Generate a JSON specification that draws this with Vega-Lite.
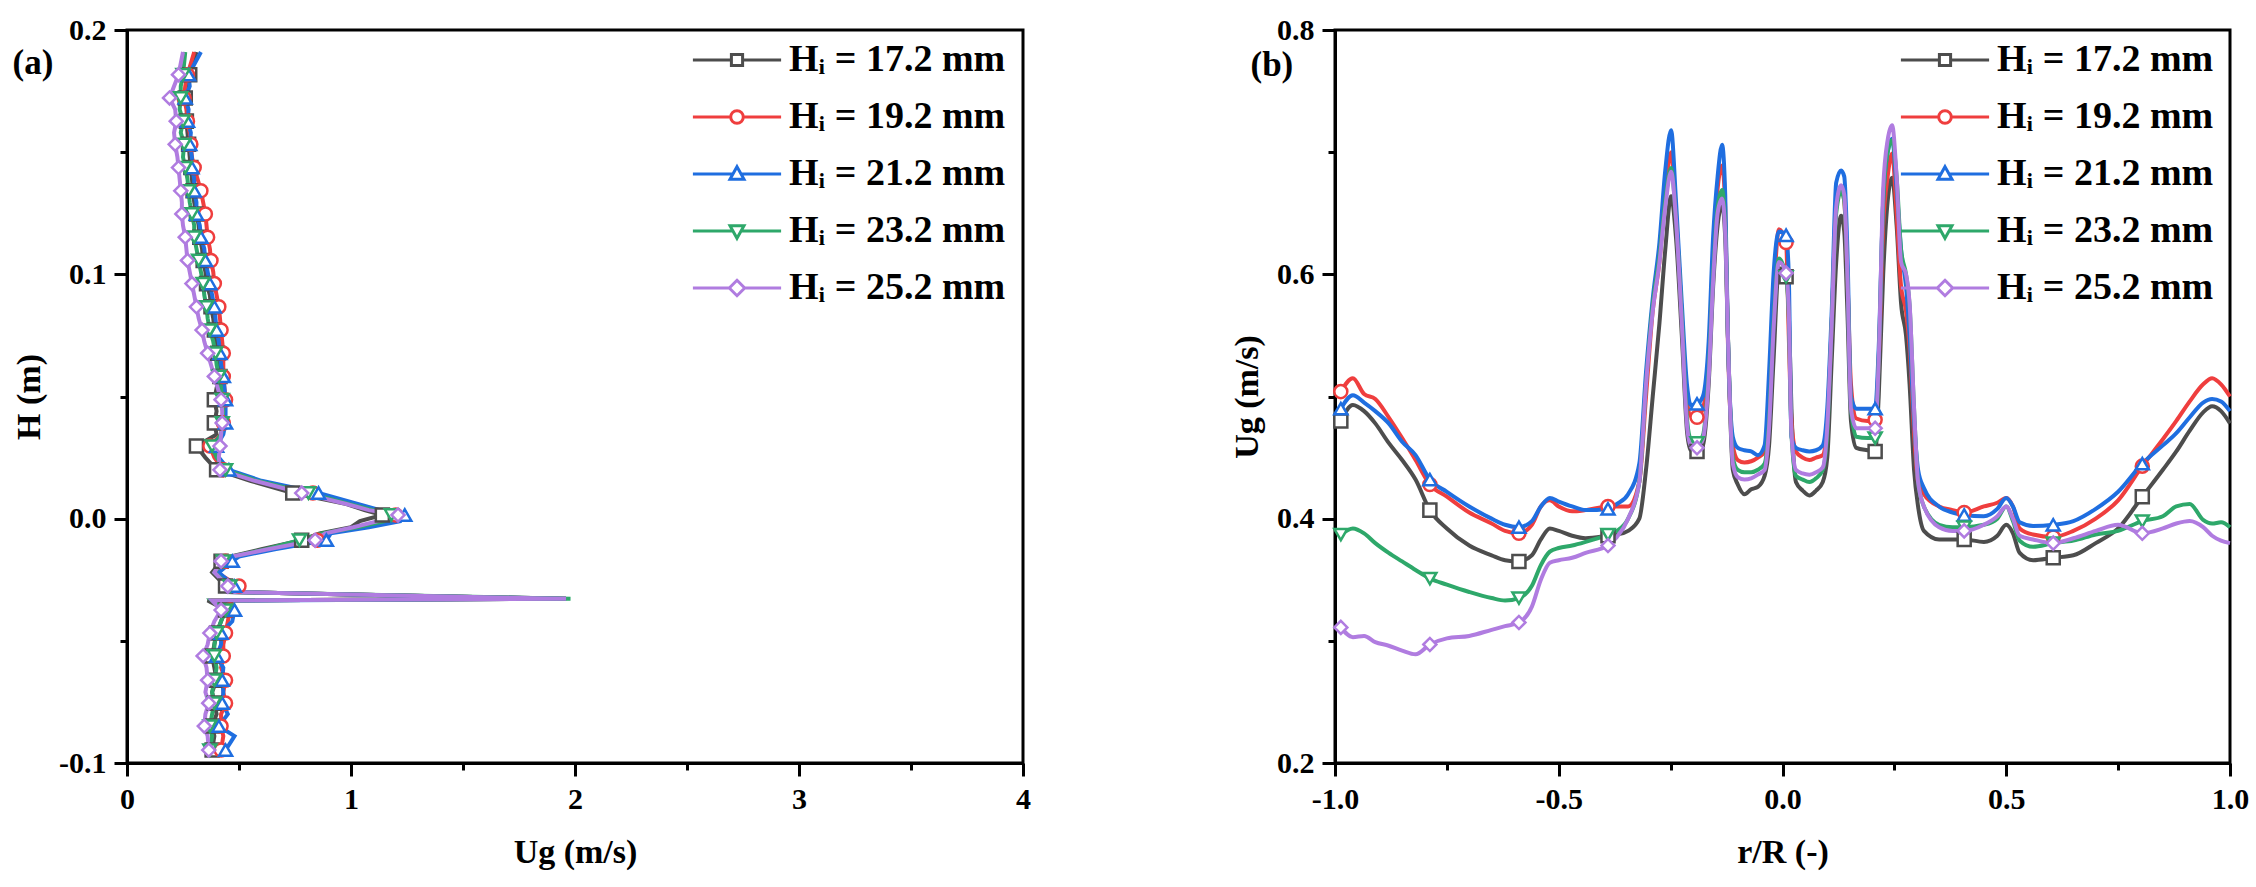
{
  "$schema": "https://vega.github.io/schema/vega-lite/v6.json",
  "background": "white",
  "padding": {"left": 11, "top": 13, "right": 0, "bottom": 0},
  "spacing": 197,
  "config": {
    "font": "Liberation Serif",
    "view": {"stroke": "black", "strokeWidth": 3},
    "axis": {
      "grid": false,
      "domainColor": "black",
      "domainWidth": 3,
      "tickColor": "black",
      "tickWidth": 3,
      "labelFont": "Liberation Serif",
      "labelFontWeight": "bold",
      "labelFontSize": 30,
      "labelColor": "black",
      "labelPadding": 8,
      "labelFlush": false,
      "labelOverlap": false,
      "titleFont": "Liberation Serif",
      "titleFontWeight": "bold",
      "titleFontSize": 34,
      "titleColor": "black",
      "titlePadding": 12
    },
    "axisX": {"titlePadding": 21},
    "legend": {
      "orient": "none",
      "legendX": 591,
      "legendY": 11,
      "padding": 0,
      "labelFont": "Liberation Serif",
      "labelFontWeight": "bold",
      "labelFontSize": 38,
      "labelColor": "black",
      "labelLimit": 400,
      "labelOffset": 33,
      "rowPadding": 19,
      "symbolSize": 196,
      "symbolStrokeWidth": 3
    }
  },
  "datasets": {
    "profile": [
      {"H": 0.191, "k17": 0.31, "k19": 0.30, "k21": 0.33, "k23": 0.26, "k25": 0.25},
      {"H": 0.1817, "k17": 0.28, "k19": 0.27, "k21": 0.275, "k23": 0.25, "k25": 0.23},
      {"H": 0.177, "k17": 0.27, "k19": 0.26, "k21": 0.28, "k23": 0.24, "k25": 0.21},
      {"H": 0.1722, "k17": 0.26, "k19": 0.255, "k21": 0.26, "k23": 0.24, "k25": 0.19},
      {"H": 0.1675, "k17": 0.27, "k19": 0.265, "k21": 0.275, "k23": 0.235, "k25": 0.215},
      {"H": 0.1627, "k17": 0.265, "k19": 0.27, "k21": 0.27, "k23": 0.25, "k25": 0.22},
      {"H": 0.158, "k17": 0.27, "k19": 0.28, "k21": 0.285, "k23": 0.24, "k25": 0.21},
      {"H": 0.1532, "k17": 0.275, "k19": 0.285, "k21": 0.28, "k23": 0.255, "k25": 0.215},
      {"H": 0.148, "k17": 0.28, "k19": 0.29, "k21": 0.29, "k23": 0.25, "k25": 0.225},
      {"H": 0.1437, "k17": 0.285, "k19": 0.30, "k21": 0.29, "k23": 0.26, "k25": 0.23},
      {"H": 0.139, "k17": 0.29, "k19": 0.315, "k21": 0.30, "k23": 0.27, "k25": 0.235},
      {"H": 0.1342, "k17": 0.295, "k19": 0.33, "k21": 0.30, "k23": 0.275, "k25": 0.24},
      {"H": 0.1295, "k17": 0.30, "k19": 0.34, "k21": 0.31, "k23": 0.28, "k25": 0.245},
      {"H": 0.1247, "k17": 0.31, "k19": 0.35, "k21": 0.31, "k23": 0.29, "k25": 0.245},
      {"H": 0.12, "k17": 0.32, "k19": 0.355, "k21": 0.325, "k23": 0.30, "k25": 0.25},
      {"H": 0.1152, "k17": 0.325, "k19": 0.36, "k21": 0.33, "k23": 0.30, "k25": 0.26},
      {"H": 0.1105, "k17": 0.335, "k19": 0.37, "k21": 0.345, "k23": 0.31, "k25": 0.265},
      {"H": 0.1057, "k17": 0.34, "k19": 0.375, "k21": 0.35, "k23": 0.32, "k25": 0.27},
      {"H": 0.101, "k17": 0.35, "k19": 0.385, "k21": 0.36, "k23": 0.33, "k25": 0.28},
      {"H": 0.0962, "k17": 0.355, "k19": 0.39, "k21": 0.37, "k23": 0.34, "k25": 0.29},
      {"H": 0.0915, "k17": 0.37, "k19": 0.40, "k21": 0.38, "k23": 0.345, "k25": 0.30},
      {"H": 0.0867, "k17": 0.375, "k19": 0.41, "k21": 0.39, "k23": 0.355, "k25": 0.31},
      {"H": 0.082, "k17": 0.385, "k19": 0.415, "k21": 0.395, "k23": 0.36, "k25": 0.32},
      {"H": 0.0772, "k17": 0.39, "k19": 0.42, "k21": 0.40, "k23": 0.37, "k25": 0.335},
      {"H": 0.0725, "k17": 0.40, "k19": 0.425, "k21": 0.41, "k23": 0.385, "k25": 0.345},
      {"H": 0.0677, "k17": 0.405, "k19": 0.43, "k21": 0.415, "k23": 0.395, "k25": 0.36},
      {"H": 0.063, "k17": 0.41, "k19": 0.43, "k21": 0.42, "k23": 0.40, "k25": 0.375},
      {"H": 0.0582, "k17": 0.415, "k19": 0.43, "k21": 0.43, "k23": 0.41, "k25": 0.39},
      {"H": 0.0535, "k17": 0.40, "k19": 0.435, "k21": 0.435, "k23": 0.42, "k25": 0.405},
      {"H": 0.0487, "k17": 0.39, "k19": 0.44, "k21": 0.44, "k23": 0.425, "k25": 0.42},
      {"H": 0.044, "k17": 0.40, "k19": 0.435, "k21": 0.44, "k23": 0.43, "k25": 0.425},
      {"H": 0.0392, "k17": 0.39, "k19": 0.43, "k21": 0.44, "k23": 0.425, "k25": 0.425},
      {"H": 0.0345, "k17": 0.40, "k19": 0.42, "k21": 0.43, "k23": 0.42, "k25": 0.42},
      {"H": 0.0297, "k17": 0.31, "k19": 0.37, "k21": 0.40, "k23": 0.38, "k25": 0.415},
      {"H": 0.025, "k17": 0.35, "k19": 0.39, "k21": 0.41, "k23": 0.40, "k25": 0.41},
      {"H": 0.02, "k17": 0.40, "k19": 0.43, "k21": 0.455, "k23": 0.44, "k25": 0.415},
      {"H": 0.0155, "k17": 0.55, "k19": 0.58, "k21": 0.60, "k23": 0.58, "k25": 0.57},
      {"H": 0.0105, "k17": 0.74, "k19": 0.83, "k21": 0.855, "k23": 0.81, "k25": 0.78},
      {"H": 0.006, "k17": 0.98, "k19": 1.0, "k21": 1.03, "k23": 0.99, "k25": 0.98},
      {"H": 0.0035, "k17": 1.06, "k19": 1.1, "k21": 1.13, "k23": 1.1, "k25": 1.08},
      {"H": 0.0015, "k17": 1.14, "k19": 1.2, "k21": 1.24, "k23": 1.18, "k25": 1.21},
      {"H": -0.001, "k17": 1.04, "k19": 1.18, "k21": 1.22, "k23": 1.15, "k25": 1.12},
      {"H": -0.0035, "k17": 1.0, "k19": 1.04, "k21": 1.08, "k23": 1.03, "k25": 1.01},
      {"H": -0.006, "k17": 0.86, "k19": 0.89, "k21": 0.91, "k23": 0.87, "k25": 0.885},
      {"H": -0.0088, "k17": 0.78, "k19": 0.85, "k21": 0.89, "k23": 0.77, "k25": 0.84},
      {"H": -0.0125, "k17": 0.6, "k19": 0.64, "k21": 0.66, "k23": 0.62, "k25": 0.63},
      {"H": -0.0155, "k17": 0.46, "k19": 0.48, "k21": 0.5, "k23": 0.47, "k25": 0.47},
      {"H": -0.0174, "k17": 0.42, "k19": 0.44, "k21": 0.47, "k23": 0.43, "k25": 0.42},
      {"H": -0.022, "k17": 0.38, "k19": 0.4, "k21": 0.41, "k23": 0.39, "k25": 0.39},
      {"H": -0.0276, "k17": 0.44, "k19": 0.5, "k21": 0.48, "k23": 0.46, "k25": 0.45},
      {"H": -0.03, "k17": 0.45, "k19": 0.47, "k21": 0.47, "k23": 0.46, "k25": 0.45},
      {"H": -0.0328, "k17": 1.96, "k19": 1.96, "k21": 1.96, "k23": 1.98, "k25": 1.96},
      {"H": -0.0335, "k17": 0.36, "k19": 0.4, "k21": 0.45, "k23": 0.38, "k25": 0.38},
      {"H": -0.0374, "k17": 0.44, "k19": 0.46, "k21": 0.48, "k23": 0.44, "k25": 0.42},
      {"H": -0.042, "k17": 0.42, "k19": 0.45, "k21": 0.47, "k23": 0.42, "k25": 0.39},
      {"H": -0.0468, "k17": 0.4, "k19": 0.44, "k21": 0.42, "k23": 0.4, "k25": 0.37},
      {"H": -0.0515, "k17": 0.39, "k19": 0.43, "k21": 0.42, "k23": 0.39, "k25": 0.36},
      {"H": -0.0562, "k17": 0.38, "k19": 0.43, "k21": 0.4, "k23": 0.39, "k25": 0.34},
      {"H": -0.061, "k17": 0.39, "k19": 0.42, "k21": 0.43, "k23": 0.4, "k25": 0.355},
      {"H": -0.0661, "k17": 0.4, "k19": 0.44, "k21": 0.425, "k23": 0.39, "k25": 0.36},
      {"H": -0.071, "k17": 0.38, "k19": 0.43, "k21": 0.43, "k23": 0.38, "k25": 0.35},
      {"H": -0.0755, "k17": 0.39, "k19": 0.44, "k21": 0.425, "k23": 0.39, "k25": 0.365},
      {"H": -0.08, "k17": 0.4, "k19": 0.42, "k21": 0.45, "k23": 0.38, "k25": 0.35},
      {"H": -0.0849, "k17": 0.38, "k19": 0.42, "k21": 0.41, "k23": 0.37, "k25": 0.345},
      {"H": -0.089, "k17": 0.39, "k19": 0.43, "k21": 0.48, "k23": 0.38, "k25": 0.36},
      {"H": -0.0947, "k17": 0.38, "k19": 0.42, "k21": 0.44, "k23": 0.37, "k25": 0.365},
      {"H": -0.097, "k17": 0.39, "k19": 0.41, "k21": 0.43, "k23": 0.37, "k25": 0.37}
    ],
    "radial": [
      {"r": -0.987, "k17": 0.48, "k19": 0.504, "k21": 0.49, "k23": 0.387, "k25": 0.311},
      {"r": -0.96, "k17": 0.493, "k19": 0.515, "k21": 0.501, "k23": 0.392, "k25": 0.303},
      {"r": -0.935, "k17": 0.488, "k19": 0.502, "k21": 0.495, "k23": 0.388, "k25": 0.304},
      {"r": -0.91, "k17": 0.478, "k19": 0.498, "k21": 0.488, "k23": 0.38, "k25": 0.299},
      {"r": -0.88, "k17": 0.462, "k19": 0.483, "k21": 0.478, "k23": 0.372, "k25": 0.296},
      {"r": -0.85, "k17": 0.448, "k19": 0.466, "k21": 0.463, "k23": 0.365, "k25": 0.292},
      {"r": -0.82, "k17": 0.432, "k19": 0.448, "k21": 0.452, "k23": 0.358, "k25": 0.289},
      {"r": -0.788, "k17": 0.407, "k19": 0.428, "k21": 0.432, "k23": 0.351, "k25": 0.297},
      {"r": -0.75, "k17": 0.392, "k19": 0.418, "k21": 0.422, "k23": 0.346, "k25": 0.302},
      {"r": -0.7, "k17": 0.378, "k19": 0.405, "k21": 0.41, "k23": 0.34, "k25": 0.304},
      {"r": -0.65, "k17": 0.37, "k19": 0.396, "k21": 0.4, "k23": 0.335, "k25": 0.309},
      {"r": -0.62, "k17": 0.366, "k19": 0.39, "k21": 0.395, "k23": 0.333, "k25": 0.312},
      {"r": -0.589, "k17": 0.365, "k19": 0.388, "k21": 0.393, "k23": 0.335, "k25": 0.315},
      {"r": -0.56, "k17": 0.37, "k19": 0.395, "k21": 0.398, "k23": 0.345, "k25": 0.328},
      {"r": -0.54, "k17": 0.383, "k19": 0.41, "k21": 0.41, "k23": 0.362, "k25": 0.35},
      {"r": -0.52, "k17": 0.392, "k19": 0.415, "k21": 0.417, "k23": 0.373, "k25": 0.364},
      {"r": -0.5, "k17": 0.39, "k19": 0.41, "k21": 0.414, "k23": 0.376, "k25": 0.366},
      {"r": -0.47, "k17": 0.386, "k19": 0.406, "k21": 0.41, "k23": 0.378, "k25": 0.368},
      {"r": -0.44, "k17": 0.384, "k19": 0.407, "k21": 0.407, "k23": 0.381, "k25": 0.372},
      {"r": -0.39, "k17": 0.386, "k19": 0.41, "k21": 0.408, "k23": 0.387, "k25": 0.378},
      {"r": -0.37, "k17": 0.387, "k19": 0.41, "k21": 0.412, "k23": 0.39, "k25": 0.385},
      {"r": -0.345, "k17": 0.39, "k19": 0.41, "k21": 0.42, "k23": 0.40, "k25": 0.40},
      {"r": -0.32, "k17": 0.40, "k19": 0.43, "k21": 0.445, "k23": 0.43, "k25": 0.43},
      {"r": -0.305, "k17": 0.44, "k19": 0.50, "k21": 0.52, "k23": 0.51, "k25": 0.51},
      {"r": -0.29, "k17": 0.50, "k19": 0.57, "k21": 0.58, "k23": 0.575, "k25": 0.57},
      {"r": -0.275, "k17": 0.56, "k19": 0.61, "k21": 0.626, "k23": 0.615, "k25": 0.61},
      {"r": -0.262, "k17": 0.62, "k19": 0.665, "k21": 0.685, "k23": 0.66, "k25": 0.655},
      {"r": -0.249, "k17": 0.664, "k19": 0.70, "k21": 0.718, "k23": 0.687, "k25": 0.684},
      {"r": -0.238, "k17": 0.63, "k19": 0.65, "k21": 0.66, "k23": 0.645, "k25": 0.645},
      {"r": -0.225, "k17": 0.55, "k19": 0.565, "k21": 0.576, "k23": 0.565, "k25": 0.56},
      {"r": -0.213, "k17": 0.47, "k19": 0.495, "k21": 0.508, "k23": 0.48, "k25": 0.475},
      {"r": -0.205, "k17": 0.456, "k19": 0.484, "k21": 0.493, "k23": 0.465, "k25": 0.46},
      {"r": -0.191, "k17": 0.455, "k19": 0.483, "k21": 0.494, "k23": 0.462, "k25": 0.458},
      {"r": -0.178, "k17": 0.46, "k19": 0.49, "k21": 0.50, "k23": 0.468, "k25": 0.465},
      {"r": -0.165, "k17": 0.51, "k19": 0.53, "k21": 0.545, "k23": 0.52, "k25": 0.515},
      {"r": -0.155, "k17": 0.59, "k19": 0.615, "k21": 0.631, "k23": 0.60, "k25": 0.595},
      {"r": -0.145, "k17": 0.64, "k19": 0.67, "k21": 0.68, "k23": 0.655, "k25": 0.65},
      {"r": -0.135, "k17": 0.657, "k19": 0.689, "k21": 0.706, "k23": 0.669, "k25": 0.662},
      {"r": -0.128, "k17": 0.63, "k19": 0.655, "k21": 0.665, "k23": 0.64, "k25": 0.635},
      {"r": -0.122, "k17": 0.55, "k19": 0.545, "k21": 0.549, "k23": 0.55, "k25": 0.55},
      {"r": -0.111, "k17": 0.44, "k19": 0.46, "k21": 0.467, "k23": 0.45, "k25": 0.445},
      {"r": -0.1, "k17": 0.428, "k19": 0.448, "k21": 0.458, "k23": 0.44, "k25": 0.434},
      {"r": -0.085, "k17": 0.42, "k19": 0.446, "k21": 0.456, "k23": 0.438, "k25": 0.432},
      {"r": -0.07, "k17": 0.424, "k19": 0.447, "k21": 0.455, "k23": 0.438, "k25": 0.433},
      {"r": -0.055, "k17": 0.426, "k19": 0.45, "k21": 0.452, "k23": 0.44, "k25": 0.436},
      {"r": -0.04, "k17": 0.435, "k19": 0.455, "k21": 0.46, "k23": 0.445, "k25": 0.44},
      {"r": -0.03, "k17": 0.46, "k19": 0.50, "k21": 0.52, "k23": 0.48, "k25": 0.475},
      {"r": -0.02, "k17": 0.53, "k19": 0.58, "k21": 0.60, "k23": 0.56, "k25": 0.555},
      {"r": -0.008, "k17": 0.605, "k19": 0.637, "k21": 0.635, "k23": 0.613, "k25": 0.61},
      {"r": 0.008, "k17": 0.598, "k19": 0.626, "k21": 0.632, "k23": 0.598, "k25": 0.601},
      {"r": 0.014, "k17": 0.57, "k19": 0.55, "k21": 0.60, "k23": 0.565, "k25": 0.57},
      {"r": 0.02, "k17": 0.49, "k19": 0.48, "k21": 0.467, "k23": 0.47, "k25": 0.47},
      {"r": 0.03, "k17": 0.43, "k19": 0.455, "k21": 0.458, "k23": 0.435, "k25": 0.44},
      {"r": 0.045, "k17": 0.423, "k19": 0.45, "k21": 0.456, "k23": 0.432, "k25": 0.437},
      {"r": 0.06, "k17": 0.419, "k19": 0.448, "k21": 0.455, "k23": 0.43, "k25": 0.436},
      {"r": 0.075, "k17": 0.423, "k19": 0.45, "k21": 0.456, "k23": 0.433, "k25": 0.438},
      {"r": 0.09, "k17": 0.43, "k19": 0.452, "k21": 0.46, "k23": 0.44, "k25": 0.442},
      {"r": 0.1, "k17": 0.45, "k19": 0.48, "k21": 0.49, "k23": 0.47, "k25": 0.475},
      {"r": 0.11, "k17": 0.53, "k19": 0.56, "k21": 0.57, "k23": 0.56, "k25": 0.56},
      {"r": 0.12, "k17": 0.61, "k19": 0.655, "k21": 0.675, "k23": 0.65, "k25": 0.655},
      {"r": 0.131, "k17": 0.648, "k19": 0.67, "k21": 0.685, "k23": 0.668, "k25": 0.673},
      {"r": 0.138, "k17": 0.635, "k19": 0.66, "k21": 0.68, "k23": 0.66, "k25": 0.665},
      {"r": 0.145, "k17": 0.57, "k19": 0.6, "k21": 0.62, "k23": 0.6, "k25": 0.6},
      {"r": 0.153, "k17": 0.48, "k19": 0.51, "k21": 0.50, "k23": 0.49, "k25": 0.49},
      {"r": 0.165, "k17": 0.458, "k19": 0.482, "k21": 0.49, "k23": 0.467, "k25": 0.474},
      {"r": 0.19, "k17": 0.456, "k19": 0.48, "k21": 0.49, "k23": 0.466, "k25": 0.474},
      {"r": 0.207, "k17": 0.455, "k19": 0.481, "k21": 0.49, "k23": 0.466, "k25": 0.474},
      {"r": 0.215, "k17": 0.5, "k19": 0.53, "k21": 0.54, "k23": 0.53, "k25": 0.53},
      {"r": 0.225, "k17": 0.6, "k19": 0.64, "k21": 0.66, "k23": 0.66, "k25": 0.67},
      {"r": 0.235, "k17": 0.66, "k19": 0.68, "k21": 0.70, "k23": 0.70, "k25": 0.71},
      {"r": 0.245, "k17": 0.679, "k19": 0.699, "k21": 0.711, "k23": 0.71, "k25": 0.722},
      {"r": 0.255, "k17": 0.64, "k19": 0.65, "k21": 0.67, "k23": 0.68, "k25": 0.68},
      {"r": 0.265, "k17": 0.576, "k19": 0.59, "k21": 0.62, "k23": 0.62, "k25": 0.61},
      {"r": 0.276, "k17": 0.55, "k19": 0.57, "k21": 0.59, "k23": 0.6, "k25": 0.6},
      {"r": 0.284, "k17": 0.51, "k19": 0.54, "k21": 0.55, "k23": 0.575, "k25": 0.576},
      {"r": 0.294, "k17": 0.44, "k19": 0.47, "k21": 0.48, "k23": 0.49, "k25": 0.49},
      {"r": 0.303, "k17": 0.41, "k19": 0.43, "k21": 0.44, "k23": 0.43, "k25": 0.43},
      {"r": 0.316, "k17": 0.39, "k19": 0.42, "k21": 0.425, "k23": 0.41, "k25": 0.41},
      {"r": 0.35, "k17": 0.383, "k19": 0.41, "k21": 0.41, "k23": 0.395, "k25": 0.393},
      {"r": 0.38, "k17": 0.383, "k19": 0.407, "k21": 0.405, "k23": 0.393, "k25": 0.39},
      {"r": 0.406, "k17": 0.383, "k19": 0.405, "k21": 0.403, "k23": 0.393, "k25": 0.39},
      {"r": 0.45, "k17": 0.381, "k19": 0.41, "k21": 0.402, "k23": 0.395, "k25": 0.395},
      {"r": 0.48, "k17": 0.386, "k19": 0.413, "k21": 0.408, "k23": 0.4, "k25": 0.402},
      {"r": 0.5, "k17": 0.395, "k19": 0.417, "k21": 0.417, "k23": 0.41, "k25": 0.41},
      {"r": 0.515, "k17": 0.388, "k19": 0.41, "k21": 0.41, "k23": 0.398, "k25": 0.4},
      {"r": 0.53, "k17": 0.372, "k19": 0.392, "k21": 0.397, "k23": 0.382, "k25": 0.386},
      {"r": 0.56, "k17": 0.366, "k19": 0.387, "k21": 0.394, "k23": 0.377, "k25": 0.383},
      {"r": 0.605, "k17": 0.368, "k19": 0.385, "k21": 0.395, "k23": 0.38, "k25": 0.38},
      {"r": 0.65, "k17": 0.37, "k19": 0.39, "k21": 0.398, "k23": 0.382, "k25": 0.384},
      {"r": 0.7, "k17": 0.38, "k19": 0.4, "k21": 0.408, "k23": 0.387, "k25": 0.39},
      {"r": 0.75, "k17": 0.392, "k19": 0.415, "k21": 0.422, "k23": 0.39, "k25": 0.395},
      {"r": 0.804, "k17": 0.418, "k19": 0.443, "k21": 0.445, "k23": 0.398, "k25": 0.388},
      {"r": 0.85, "k17": 0.44, "k19": 0.465, "k21": 0.46, "k23": 0.402, "k25": 0.392},
      {"r": 0.88, "k17": 0.455, "k19": 0.48, "k21": 0.47, "k23": 0.41, "k25": 0.396},
      {"r": 0.91, "k17": 0.472, "k19": 0.496, "k21": 0.483, "k23": 0.412, "k25": 0.398},
      {"r": 0.94, "k17": 0.487, "k19": 0.51, "k21": 0.495, "k23": 0.399, "k25": 0.393},
      {"r": 0.96, "k17": 0.492, "k19": 0.515, "k21": 0.498, "k23": 0.396, "k25": 0.386},
      {"r": 0.98, "k17": 0.488, "k19": 0.51, "k21": 0.496, "k23": 0.397, "k25": 0.382},
      {"r": 1.0, "k17": 0.478, "k19": 0.5, "k21": 0.488, "k23": 0.393, "k25": 0.38}
    ]
  },
  "hconcat": [
    {
      "width": 896,
      "height": 733,
      "title": {"text": "(a)", "anchor": "start", "frame": "bounds", "fontSize": 35, "fontWeight": "bold", "font": "Liberation Serif", "color": "black", "dy": 66, "offset": 0},
      "data": {"name": "profile"},
      "transform": [{"fold": ["k17", "k19", "k21", "k23", "k25"], "as": ["series", "Ug"]}],
      "encoding": {
        "x": {
          "field": "Ug", "type": "quantitative",
          "scale": {"domain": [0, 4], "nice": false, "zero": false},
          "axis": {
            "title": "Ug (m/s)",
            "values": [0, 0.5, 1, 1.5, 2, 2.5, 3, 3.5, 4],
            "tickSize": {"condition": {"test": "round(datum.value*2) % 2 != 0", "value": 7}, "value": 13},
            "labelExpr": "round(datum.value*2) % 2 != 0 ? '' : format(datum.value, 'd')"
          }
        },
        "y": {
          "field": "H", "type": "quantitative",
          "scale": {"domain": [-0.1, 0.2], "nice": false, "zero": false},
          "axis": {
            "title": "H (m)",
            "values": [-0.1, -0.05, 0, 0.05, 0.1, 0.15, 0.2],
            "tickSize": {"condition": {"test": "round(datum.value*20) % 2 != 0", "value": 7}, "value": 13},
            "labelExpr": "round(datum.value*20) % 2 != 0 ? '' : (datum.value < 0 ? '-' : '') + format(abs(datum.value), '.1f')"
          }
        },
        "color": {
          "field": "series", "type": "nominal",
          "scale": {"domain": ["k17", "k19", "k21", "k23", "k25"], "range": ["#4d4d4d", "#ef3e3e", "#1f6ee0", "#2ea86a", "#b07ce0"]},
          "legend": {
            "title": null,
            "labelExpr": "'Hᵢ = ' + {'k17': '17.2', 'k19': '19.2', 'k21': '21.2', 'k23': '23.2', 'k25': '25.2'}[datum.label] + ' mm'",
            "encode": {
              "symbols": {
                "update": {
                  "shape": {"signal": "{'k17': 'M-6.3,0H-0.8M0.8,0H6.3M-0.8,-0.8H0.8V0.8H-0.8Z', 'k19': 'M-6.3,0H-0.9M0.9,0H6.3M-0.9,0A0.9,0.9 0 1,0 0.9,0A0.9,0.9 0 1,0 -0.9,0Z', 'k21': 'M-6.3,0H-0.58M0.58,0H6.3M0,-1.05L1,0.75H-1Z', 'k23': 'M-6.3,0H-0.58M0.58,0H6.3M0,1.05L1,-0.75H-1Z', 'k25': 'M-6.3,0H-1.1M1.1,0H6.3M0,-1.1L1.1,0L0,1.1L-1.1,0Z'}[datum.value]"},
                  "fill": {"value": "white"},
                  "opacity": {"value": 1}
                }
              }
            }
          }
        }
      },
      "layer": [
        {
          "mark": {"type": "line", "strokeWidth": 4, "interpolate": "linear"},
          "encoding": {"order": {"field": "H", "type": "quantitative"}}
        },
        {
          "transform": [{"filter": {"field": "H", "oneOf": [0.1817, 0.1722, 0.1627, 0.1532, 0.1437, 0.1342, 0.1247, 0.1152, 0.1057, 0.0962, 0.0867, 0.0772, 0.0677, 0.0582, 0.0487, 0.0392, 0.0297, 0.02, 0.0105, 0.0015, -0.0088, -0.0174, -0.0276, -0.0374, -0.0468, -0.0562, -0.0661, -0.0755, -0.0849, -0.0947]}}],
          "mark": {"type": "point", "filled": false, "fill": "white", "size": 170, "strokeWidth": 2.5, "opacity": 1},
          "encoding": {
            "shape": {"field": "series", "type": "nominal", "legend": null,
              "scale": {"range": ["square", "circle", "triangle-up", "triangle-down", "diamond"]}}
          }
        }
      ]
    },
    {
      "width": 895,
      "height": 733,
      "title": {"text": "(b)", "anchor": "start", "frame": "bounds", "fontSize": 35, "fontWeight": "bold", "font": "Liberation Serif", "color": "black", "dy": 68, "dx": 20, "offset": 0},
      "data": {"name": "radial"},
      "transform": [{"fold": ["k17", "k19", "k21", "k23", "k25"], "as": ["series", "Ug"]}],
      "encoding": {
        "x": {
          "field": "r", "type": "quantitative",
          "scale": {"domain": [-1, 1], "nice": false, "zero": false},
          "axis": {
            "title": "r/R (-)",
            "values": [-1, -0.75, -0.5, -0.25, 0, 0.25, 0.5, 0.75, 1],
            "tickSize": {"condition": {"test": "round(datum.value*4) % 2 != 0", "value": 7}, "value": 13},
            "labelExpr": "round(datum.value*4) % 2 != 0 ? '' : (datum.value < 0 ? '-' : '') + format(abs(datum.value), '.1f')"
          }
        },
        "y": {
          "field": "Ug", "type": "quantitative",
          "scale": {"domain": [0.2, 0.8], "nice": false, "zero": false},
          "axis": {
            "title": "Ug (m/s)",
            "values": [0.2, 0.3, 0.4, 0.5, 0.6, 0.7, 0.8],
            "tickSize": {"condition": {"test": "round(datum.value*10) % 2 != 0", "value": 7}, "value": 13},
            "labelExpr": "round(datum.value*10) % 2 != 0 ? '' : format(datum.value, '.1f')"
          }
        },
        "color": {
          "field": "series", "type": "nominal",
          "scale": {"domain": ["k17", "k19", "k21", "k23", "k25"], "range": ["#4d4d4d", "#ef3e3e", "#1f6ee0", "#2ea86a", "#b07ce0"]},
          "legend": {
            "title": null,
            "labelExpr": "'Hᵢ = ' + {'k17': '17.2', 'k19': '19.2', 'k21': '21.2', 'k23': '23.2', 'k25': '25.2'}[datum.label] + ' mm'",
            "encode": {
              "symbols": {
                "update": {
                  "shape": {"signal": "{'k17': 'M-6.3,0H-0.8M0.8,0H6.3M-0.8,-0.8H0.8V0.8H-0.8Z', 'k19': 'M-6.3,0H-0.9M0.9,0H6.3M-0.9,0A0.9,0.9 0 1,0 0.9,0A0.9,0.9 0 1,0 -0.9,0Z', 'k21': 'M-6.3,0H-0.58M0.58,0H6.3M0,-1.05L1,0.75H-1Z', 'k23': 'M-6.3,0H-0.58M0.58,0H6.3M0,1.05L1,-0.75H-1Z', 'k25': 'M-6.3,0H-1.1M1.1,0H6.3M0,-1.1L1.1,0L0,1.1L-1.1,0Z'}[datum.value]"},
                  "fill": {"value": "white"},
                  "opacity": {"value": 1}
                }
              }
            }
          }
        }
      },
      "layer": [
        {
          "mark": {"type": "line", "strokeWidth": 4, "interpolate": "monotone"}
        },
        {
          "transform": [{"filter": {"field": "r", "oneOf": [-0.987, -0.788, -0.589, -0.39, -0.191, 0.008, 0.207, 0.406, 0.605, 0.804]}}],
          "mark": {"type": "point", "filled": false, "fill": "white", "size": 170, "strokeWidth": 2.5, "opacity": 1},
          "encoding": {
            "shape": {"field": "series", "type": "nominal", "legend": null,
              "scale": {"range": ["square", "circle", "triangle-up", "triangle-down", "diamond"]}}
          }
        }
      ]
    }
  ],
  "resolve": {
    "scale": {"color": "independent", "shape": "independent"},
    "legend": {"color": "independent", "shape": "independent"}
  }
}
